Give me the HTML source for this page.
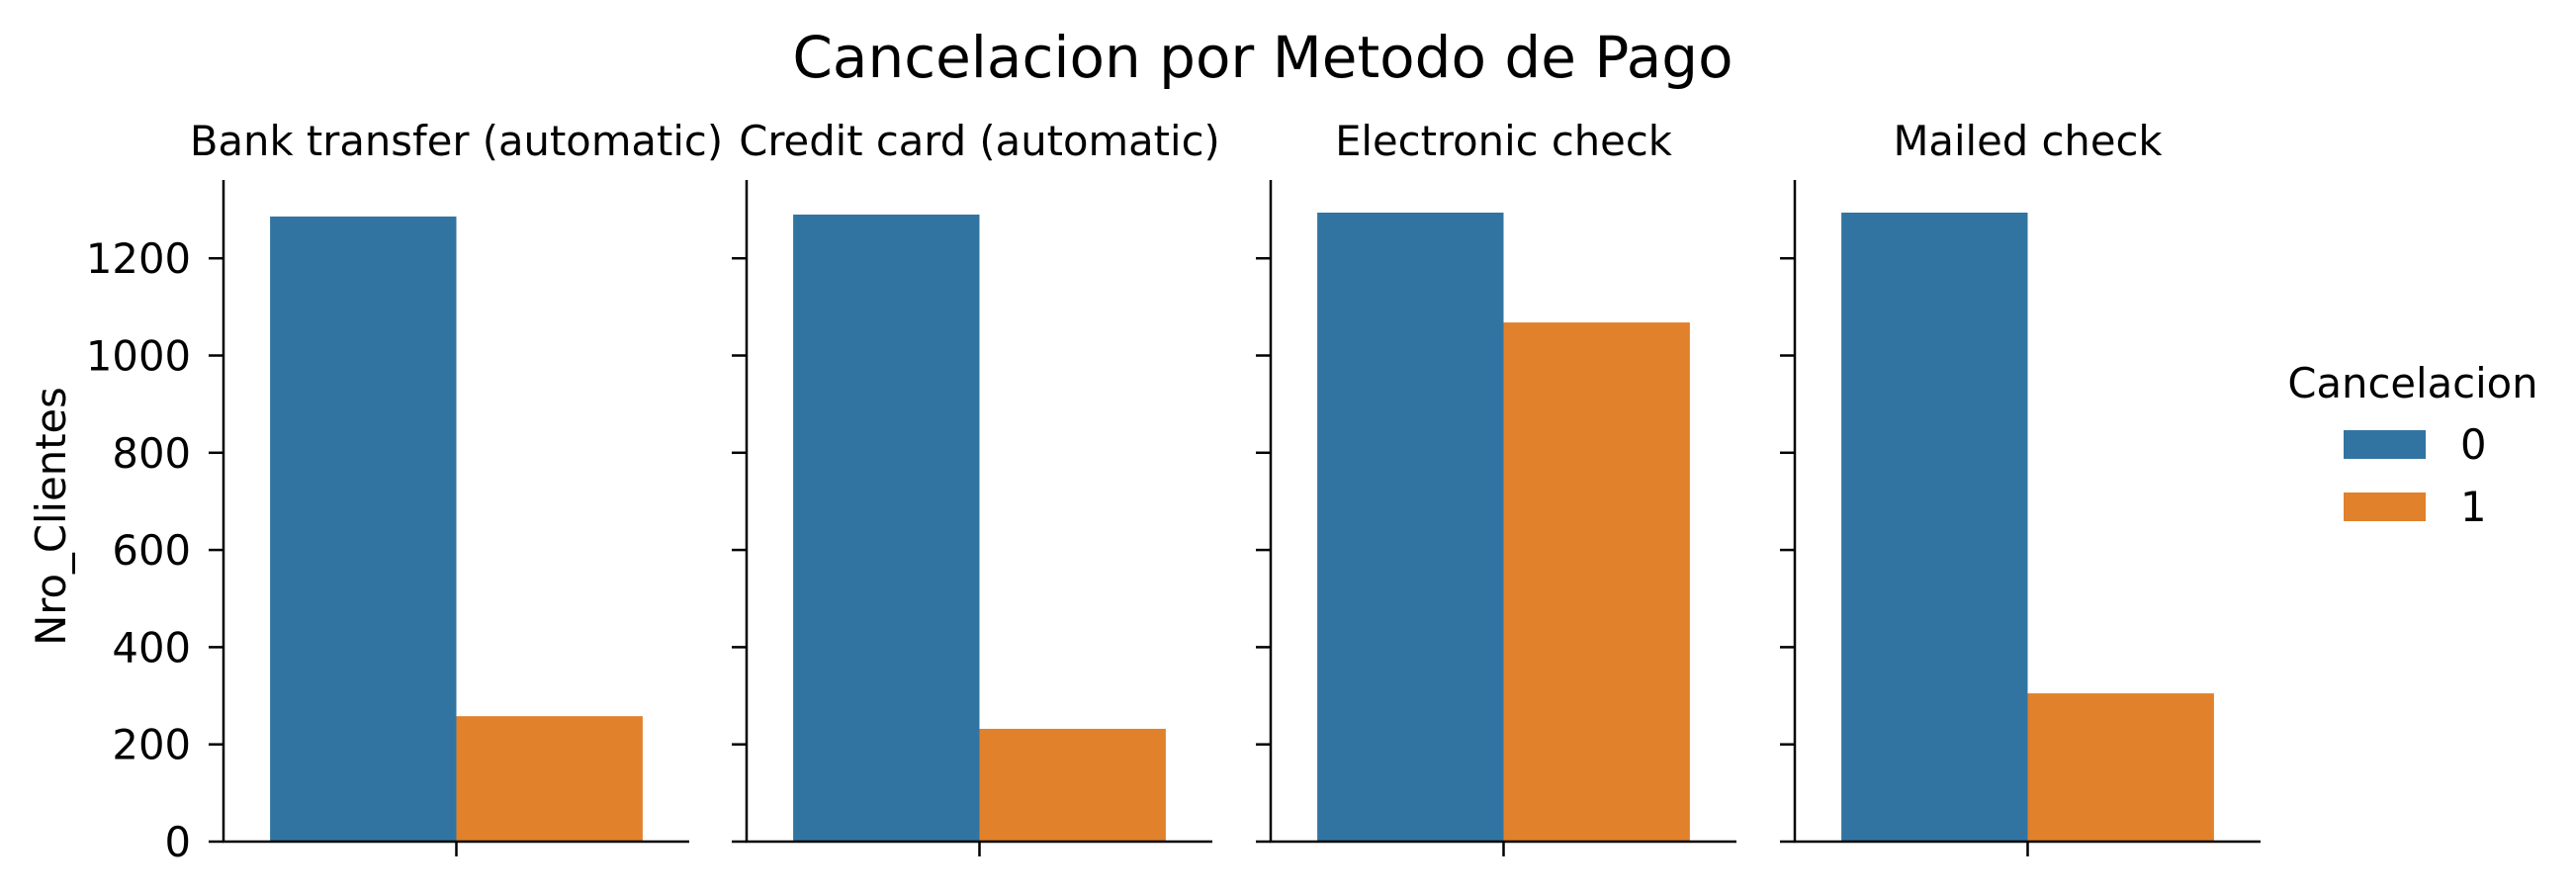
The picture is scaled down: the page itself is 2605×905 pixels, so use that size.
<!DOCTYPE html>
<html><head><meta charset="utf-8"><style>body{margin:0;background:#fff}svg{display:block;font-family:"DejaVu Sans","Liberation Sans",sans-serif}</style></head>
<body>
<svg id="c" width="2605" height="905" viewBox="0 0 2605 905"></svg>
<script>
const categories = ["Bank transfer (automatic)","Credit card (automatic)","Electronic check","Mailed check"];
const series0 = [1286,1290,1294,1294];
const series1 = [258,232,1068,305];
const yTicks = [0,200,400,600,800,1000,1200];
const colors = ["#3274a1","#e1812c"];
const svgEl = document.getElementById('c');
const NS = "http://www.w3.org/2000/svg";
function mk(t, a, txt){const e=document.createElementNS(NS,t);for(const k in a)e.setAttribute(k,a[k]);if(txt!==undefined)e.textContent=txt;svgEl.appendChild(e);return e;}
const y0=851, pxPer=98.3/200, axTop=182, axW=471;
const spines=[226,755,1285,1815];
function yPos(v){return y0-v*pxPer;}
let t=mk('text',{x:1277,y:78,'font-size':58,'text-anchor':'middle'},"Cancelacion por Metodo de Pago");


t=mk('text',{x:0,y:0,'font-size':41.7,'text-anchor':'middle',transform:'translate(66,522) rotate(-90)'},"Nro_Clientes");


categories.forEach((c,i)=>{
  const L=spines[i], cx=L+axW/2, bw=axW*0.4;
  const b0=mk('rect',{x:L+axW*0.1,y:yPos(series0[i]),width:bw,height:y0-yPos(series0[i]),fill:colors[0]});
  
  
  const b1=mk('rect',{x:cx,y:yPos(series1[i]),width:bw,height:y0-yPos(series1[i]),fill:colors[1]});
  
  
  const s=mk('line',{x1:L,x2:L,y1:axTop,y2:y0+1,stroke:'#000','stroke-width':2.5});
  
  
  const bx=mk('line',{x1:L-1,x2:L+axW,y1:y0,y2:y0,stroke:'#000','stroke-width':2.5});
  
  
  const xt=mk('line',{x1:cx,x2:cx,y1:y0,y2:y0+15,stroke:'#000','stroke-width':2.5});
  
  
  const ft=mk('text',{x:cx,y:157,'font-size':41.7,'text-anchor':'middle'},c);
  
  
  yTicks.forEach(v=>{
    const tk=mk('line',{x1:L-15,x2:L,y1:yPos(v),y2:yPos(v),stroke:'#000','stroke-width':2.5});
    
    
    if(i===0){
      const tl=mk('text',{x:L-33,y:yPos(v)+15,'font-size':41.7,'text-anchor':'end'},String(v));
      
      
    }
  });
});
t=mk('text',{x:2440,y:402,'font-size':41.7,'text-anchor':'middle'},"Cancelacion");


["0","1"].forEach((l,i)=>{
  const r=mk('rect',{x:2370,y:435+i*63,width:83,height:29,fill:colors[i]});
  
  
  const lt=mk('text',{x:2488,y:464+i*63,'font-size':41.7},l);
  
  
});
</script>
</body></html>
